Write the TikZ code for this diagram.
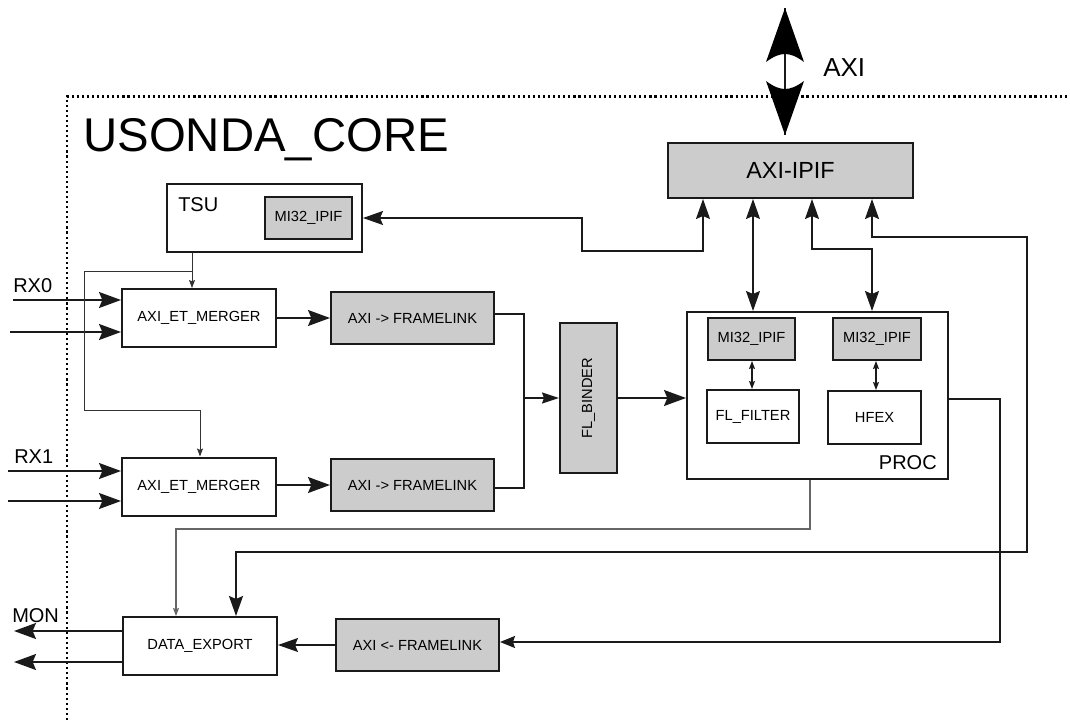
\documentclass[tikz,border=0pt]{standalone}
\usepackage{fontspec}
\setmainfont{Liberation Sans}
\usetikzlibrary{arrows.meta}
\definecolor{boxgray}{HTML}{CCCCCC}
\definecolor{edgecol}{HTML}{1A1A1A}
\definecolor{linegray}{HTML}{666666}
\tikzset{
  tipBig/.tip={Stealth[length=16.5pt,width=12pt,inset=2.5pt]},
  tipMed/.tip={Stealth[length=15pt,width=10.5pt,inset=2.25pt]},
  tipIn/.tip={Stealth[length=11.25pt,width=9pt,inset=1.5pt]},
  tipBin/.tip={Stealth[length=12.75pt,width=8.25pt,inset=1.5pt]},
  tipSm/.tip={Stealth[length=6pt,width=4.5pt,inset=1pt]},
}
\begin{document}
\begin{tikzpicture}[x=0.75pt,y=-0.75pt,
  blk/.style={draw=edgecol,line width=1.5pt,fill=white,inner sep=0pt,font=\fontsize{11}{13}\selectfont},
  gblk/.style={blk,fill=boxgray},
  conn/.style={draw=edgecol,line width=1.1pt},
  thinln/.style={draw=black!80,line width=0.75pt},
  grayln/.style={draw=linegray,line width=0.9pt},
  lbl/.style={inner sep=0pt,font=\fontsize{15}{18}\selectfont},
  coreborder/.style={draw=black,line width=1.6pt,dash pattern=on 1.6pt off 2.2pt},
]
\useasboundingbox (0,0) rectangle (1070,720);

% core border
\draw[coreborder] (67,720) -- (67,96.5) -- (1070,96.5);
\node[inner sep=0pt,anchor=base west,font=\fontsize{35.5}{40}\selectfont] (title) at (83,152) {USONDA\_CORE};

% blocks
\node[gblk,minimum width=183.75pt,minimum height=41.25pt,font=\fontsize{17.5}{20}\selectfont] (axiipif) at (790.5,170.5) {AXI-IPIF};

\node[blk,minimum width=146.25pt,minimum height=51pt] (tsu) at (264.5,218) {};
\node[lbl,anchor=base west] (tsulbl) at (178,212) {TSU};
\node[gblk,minimum width=65.25pt,minimum height=31.5pt] (tsumi) at (308.5,218) {MI32\_IPIF};

\node[blk,minimum width=115.5pt,minimum height=43.5pt] (merg1) at (199,318) {AXI\_ET\_MERGER};
\node[blk,minimum width=115.5pt,minimum height=43.5pt] (merg2) at (199,486.5) {AXI\_ET\_MERGER};
\node[gblk,minimum width=122.25pt,minimum height=39pt] (a2f1) at (412.5,318) {AXI -> FRAMELINK};
\node[gblk,minimum width=122.25pt,minimum height=39pt] (a2f2) at (412.5,485) {AXI -> FRAMELINK};

\node[gblk,minimum width=42.75pt,minimum height=112.5pt] (binder) at (588.5,398) {};
\node[rotate=90,inner sep=0pt,font=\fontsize{11}{13}\selectfont] (binderlbl) at (binder.center) {FL\_BINDER};

\node[blk,minimum width=195.75pt,minimum height=125.25pt] (proc) at (817.5,395.5) {};
\node[lbl,anchor=base east] (proclbl) at (937,469) {PROC};
\node[gblk,minimum width=65.25pt,minimum height=31.5pt] (miL) at (751.5,339) {MI32\_IPIF};
\node[gblk,minimum width=66pt,minimum height=31.5pt] (miR) at (877,339) {MI32\_IPIF};
\node[blk,minimum width=69pt,minimum height=39.75pt] (flf) at (753,416.5) {FL\_FILTER};
\node[blk,minimum width=69.75pt,minimum height=39.75pt] (hfex) at (874.5,417.5) {HFEX};

\node[blk,minimum width=115.5pt,minimum height=43.5pt] (dexp) at (200,646) {DATA\_EXPORT};
\node[gblk,minimum width=122.25pt,minimum height=39pt] (f2a) at (417.5,645) {AXI <- FRAMELINK};

% outside labels
\node[lbl,anchor=base west] (rx0) at (13,292) {RX0};
\node[lbl,anchor=base west] (rx1) at (14,463) {RX1};
\node[lbl,anchor=base west] (mon) at (12,622) {MON};
\node[inner sep=0pt,anchor=base west,font=\fontsize{19.5}{22}\selectfont] (axilbl) at (823,77) {AXI};

% big AXI double arrow
\coordinate (axiT) at (785,8);
\coordinate (axiB) at (785,135);
\draw[line width=1.5pt,edgecol] (axiT) -- (axiB);
\fill[black] (axiT) -- (804,62) .. controls (796,56) and (790,54) .. (785,54) .. controls (780,54) and (774,56) .. (766,62) -- cycle;
\fill[black] (axiB) -- (804,81) .. controls (796,87) and (790,89) .. (785,89) .. controls (780,89) and (774,87) .. (766,81) -- cycle;

% free ends
\coordinate (rx0a) at (13,300);
\coordinate (rx0b) at (10,332);
\coordinate (rx1a) at (8,471);
\coordinate (rx1b) at (8,501);
\coordinate (mon1) at (14,631);
\coordinate (mon2) at (14,662);

% inputs
\draw[conn,-tipBig] (rx0a) -- (rx0a -| merg1.west);
\draw[conn,-tipBig] (rx0b) -- (rx0b -| merg1.west);
\draw[conn,-tipBig] (rx1a) -- (rx1a -| merg2.west);
\draw[conn,-tipBig] (rx1b) -- (rx1b -| merg2.west);

% outputs
\draw[conn,-tipBig] (dexp.west |- mon1) -- (mon1);
\draw[conn,-tipBig] (dexp.west |- mon2) -- (mon2);

% merger -> framelink
\draw[conn,-tipBig] (merg1.east) -- (a2f1.west);
\draw[conn,-tipBig] (merg2.east |- a2f2.west) -- (a2f2.west);

% framelink -> binder
\coordinate (bj) at (524,398);
\draw[conn] (a2f1.east |- 0,314) -| (bj) |- (a2f2.east |- 0,488);
\draw[conn,-tipBin] (bj) -- (bj -| binder.west);

% binder -> proc
\draw[conn,-tipBig] (binder.east) -- (binder.east -| proc.west);

% inside proc
\draw[conn,line width=0.9pt,tipSm-tipSm] (miL.south -| 752,0) -- (flf.north -| 752,0);
\draw[conn,line width=0.9pt,tipSm-tipSm] (miR.south -| 876,0) -- (hfex.north -| 876,0);

% AXI-IPIF connections
\draw[conn,tipMed-tipMed] (axiipif.south -| 753,0) -- (proc.north -| 753,0);
\draw[conn,tipMed-tipMed] (axiipif.south -| 812,0) |- (872,249) -- (proc.north -| 872,0);
\draw[conn,tipMed-tipMed] (tsu.east) -| (582,251) -| (axiipif.south -| 703,0);
\draw[conn,line width=1.4pt,tipMed-tipMed] (axiipif.south -| 872,0) |- (1027,237) |- (236,552) -- (dexp.north -| 236,0);

% proc -> axi<-framelink -> data_export
\draw[conn,-tipIn] (proc.east |- 0,399) -| (1000,642) -- (f2a.east |- 0,642);
\draw[conn,-tipMed] (f2a.west) -- (f2a.west -| dexp.east);

% TSU timestamps
\coordinate (tj) at (192,271);
\draw[thinln,-tipSm] (tsu.south -| tj) -- (merg1.north -| tj);
\draw[thinln,-tipSm] (tj) -| (84,410) -| (merg2.north -| 200,0);

% proc -> data_export thin
\draw[grayln,-tipSm] (proc.south -| 810,0) |- (176,529) -- (dexp.north -| 176,0);
\end{tikzpicture}
\end{document}
